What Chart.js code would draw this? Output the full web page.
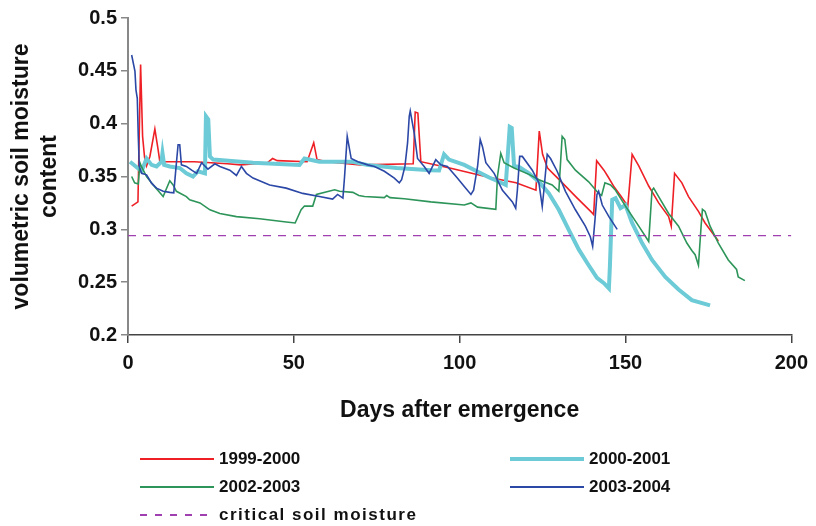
<!DOCTYPE html>
<html>
<head>
<meta charset="utf-8">
<script src="https://cdn.jsdelivr.net/npm/chart.js@4.4.1/dist/chart.umd.min.js"></script>
<style>
  html, body { margin: 0; padding: 0; background: #fff; }
  #wrap { position: relative; width: 816px; height: 526px; }
  #legend { position: absolute; left: 0; top: 0; width: 816px; height: 526px; pointer-events: none;
            font: bold 17px "Liberation Sans", Arial, sans-serif; color: #111; }
  .item { position: absolute; height: 22px; display: flex; align-items: center; white-space: nowrap; }
  .swatch { width: 74px; margin-right: 5px; }
</style>
</head>
<body>
<div id="wrap">
  <canvas id="chart" width="816" height="526"></canvas>
  <div id="legend"></div>
</div>
<script>
// tick labels
const xTicks = [0, 50, 100, 150, 200];
const yTicks = [0.2, 0.25, 0.3, 0.35, 0.4, 0.45, 0.5];

// 1999-2000
const days9900 = [1.1, 3.0, 3.8, 4.4, 5.0, 5.6, 6.6, 8.1, 9.1, 9.6, 20, 30, 34, 42, 43.6, 45, 54, 56, 57, 60, 70,
  86, 86.6, 87.4, 88.3, 97, 109, 117, 123, 124, 125, 126.5, 130, 135, 139.8, 140.4, 141.3, 143.5, 144.7, 146.6,
  148.7, 150.7, 152, 154, 157, 160, 163, 163.8, 164.8, 167, 169, 172, 174, 178];
const vals9900 = [0.322, 0.326, 0.456, 0.388, 0.368, 0.360, 0.369, 0.395, 0.375, 0.364, 0.364, 0.362, 0.361, 0.363,
  0.367, 0.365, 0.364, 0.382, 0.366, 0.364, 0.361, 0.362, 0.411, 0.410, 0.364, 0.358, 0.349, 0.344, 0.337, 0.393,
  0.371, 0.358, 0.347, 0.331, 0.316, 0.314, 0.365, 0.356, 0.350, 0.340, 0.331, 0.322, 0.371, 0.360, 0.341, 0.325,
  0.312, 0.303, 0.353, 0.344, 0.331, 0.317, 0.306, 0.289];

// 2000-2001
const days0001 = [0.6, 4.1, 5.6, 7.1, 8.6, 10.1, 10.4, 10.9, 12.6, 15.6, 17.6, 19.6, 21.1, 23.2, 23.5, 24.2, 24.7,
  25.7, 37.7, 51.7, 53.2, 57.7, 67.7, 72, 81, 91.3, 93.8, 95.3, 96.8, 101.4, 108.9, 111.9, 113.9, 115.1, 115.7,
  116.4, 117.9, 120.9, 123.9, 126.9, 129.9, 132.9, 135.9, 138.9, 141.4, 143.5, 145, 145.3, 146, 147, 148.5, 150,
  152, 155, 158, 162, 166, 170, 175.5];
const vals0001 = [0.364, 0.355, 0.367, 0.361, 0.3595, 0.364, 0.372, 0.361, 0.3595, 0.358, 0.353, 0.350, 0.355,
  0.353, 0.407, 0.404, 0.369, 0.366, 0.363, 0.361, 0.367, 0.364, 0.364, 0.361, 0.358, 0.356, 0.3557, 0.371, 0.366,
  0.361, 0.349, 0.345, 0.342, 0.397, 0.396, 0.360, 0.359, 0.353, 0.345, 0.334, 0.3185, 0.2995, 0.281, 0.266,
  0.254, 0.249, 0.244, 0.265, 0.328, 0.3295, 0.320, 0.323, 0.306, 0.287, 0.271, 0.255, 0.243, 0.233, 0.228];

// 2002-2003
const days0203 = [1.1, 2.0, 3.1, 3.6, 4.1, 5.6, 7.6, 10.6, 12.6, 13.6, 14.6, 17.6, 18.6, 21.7, 24.7, 27.7, 32.7,
  39.7, 47.7, 50.4, 52.2, 53.2, 55.7, 56.8, 62.3, 63.8, 67.8, 69.6, 71.3, 77.3, 78, 79, 83.3, 91.3, 101.4, 103.4,
  105.4, 110.9, 111.4, 112.4, 113.4, 116.4, 120.9, 123.9, 127.9, 129.9, 130.9, 131.7, 132.4, 134.9, 138.9, 141.9,
  142.8, 143.8, 145.5, 147, 150, 154, 157, 158, 158.5, 160, 163, 166, 168.5, 170, 171, 172, 172.8, 173.2, 174,
  175.5, 178, 181, 183.5, 184, 186];
const vals0203 = [0.350, 0.344, 0.343, 0.363, 0.359, 0.350, 0.342, 0.331, 0.346, 0.342, 0.336, 0.331, 0.328,
  0.325, 0.3185, 0.315, 0.312, 0.310, 0.307, 0.306, 0.3185, 0.322, 0.322, 0.333, 0.3375, 0.336, 0.335, 0.332,
  0.331, 0.330, 0.332, 0.330, 0.329, 0.326, 0.323, 0.325, 0.321, 0.319, 0.350, 0.372, 0.363, 0.358, 0.352, 0.347,
  0.342, 0.336, 0.388, 0.385, 0.366, 0.356, 0.345, 0.334, 0.332, 0.344, 0.342, 0.337, 0.322, 0.303, 0.2885,
  0.337, 0.339, 0.331, 0.315, 0.303, 0.287, 0.280, 0.276, 0.266, 0.303, 0.319, 0.317, 0.303, 0.287, 0.271, 0.262,
  0.255, 0.2515];

// 2003-2004
const days0304 = [1.1, 2.1, 2.4, 2.8, 3.1, 3.4, 4.1, 5.6, 7.1, 8.6, 10.6, 12.6, 13.8, 14.4, 15.1, 15.6, 16.1, 17.6,
  19.2, 20.7, 22.2, 24.1, 26.2, 27.7, 30.7, 32.7, 34.2, 35.7, 37.7, 42.7, 47.7, 52.7, 57.7, 61.7, 63.2, 64.8, 65.3,
  66.1, 67.3, 69.3, 72.3, 74.3, 77.3, 80.3, 81.8, 82.5, 83.5, 84.3, 84.8, 85.1, 86.3, 87.3, 89.3, 90.8, 92.8, 94.3,
  96.3, 99.3, 101.4, 103.4, 104.2, 105.4, 106.2, 106.9, 107.9, 110.4, 112.9, 115.9, 116.9, 117.4, 118.1, 118.9,
  121.9, 123.9, 124.9, 125.4, 126.4, 127.4, 129.4, 131.9, 134.9, 137.9, 139.4, 140.1, 140.8, 141.4, 141.9, 143,
  145, 147.5];
const vals0304 = [0.465, 0.4495, 0.432, 0.424, 0.388, 0.3595, 0.353, 0.3516, 0.3437, 0.339, 0.336, 0.335, 0.3345,
  0.356, 0.380, 0.380, 0.361, 0.3595, 0.356, 0.353, 0.363, 0.357, 0.362, 0.3595, 0.356, 0.351, 0.3595, 0.353,
  0.3485, 0.342, 0.339, 0.334, 0.331, 0.3286, 0.333, 0.3295, 0.350, 0.388, 0.367, 0.364, 0.361, 0.3595, 0.355,
  0.3485, 0.344, 0.347, 0.3595, 0.382, 0.407, 0.412, 0.391, 0.367, 0.3595, 0.353, 0.366, 0.361, 0.3595, 0.3485,
  0.3405, 0.333, 0.337, 0.3595, 0.385, 0.378, 0.363, 0.353, 0.337, 0.326, 0.320, 0.337, 0.369, 0.369, 0.356,
  0.344, 0.3216, 0.337, 0.371, 0.367, 0.355, 0.336, 0.3185, 0.303, 0.293, 0.284, 0.309, 0.333, 0.336, 0.323,
  0.312, 0.300];

// critical soil moisture
const critDays = [0, 200];
const critVals = [0.294, 0.294];

const FONT = '"Liberation Sans", Arial, sans-serif';

function toPoints(days, vals) {
  return days.map((d, i) => ({ x: d, y: vals[i] }));
}

const series = [
  { label: '1999-2000', days: days9900, vals: vals9900, color: '#ee2026', width: 1.6, order: 4, col: 0, row: 0 },
  { label: '2000-2001', days: days0001, vals: vals0001, color: '#6ccbd6', width: 4, order: 3, col: 1, row: 0 },
  { label: '2002-2003', days: days0203, vals: vals0203, color: '#2e955a', width: 1.6, order: 2, col: 0, row: 1 },
  { label: '2003-2004', days: days0304, vals: vals0304, color: '#2c48a6', width: 1.6, order: 1, col: 1, row: 1 },
  { label: 'critical soil moisture', days: critDays, vals: critVals, color: '#a040b0', width: 1.2, dash: [8, 7], order: 0, col: 0, row: 2 }
];

const datasets = series.map(s => ({
  label: s.label,
  data: toPoints(s.days, s.vals),
  borderColor: s.color,
  backgroundColor: s.color,
  borderWidth: s.width,
  borderDash: s.dash || [],
  pointRadius: 0,
  tension: 0,
  fill: false,
  order: s.order
}));

const tickFont = { family: FONT, size: 20, weight: 'bold' };
const titleFont = { family: FONT, size: 23, weight: 'bold' };

new Chart(document.getElementById('chart').getContext('2d'), {
  type: 'line',
  data: { datasets },
  options: {
    responsive: false,
    animation: false,
    layout: { padding: { top: 18, right: 21, left: 0, bottom: 0 } },
    plugins: { legend: { display: false }, tooltip: { enabled: false } },
    scales: {
      x: {
        type: 'linear', min: 0, max: 200,
        afterBuildTicks: s => { s.ticks = xTicks.map(v => ({ value: v })); },
        ticks: { font: tickFont, color: '#111', padding: 8, maxRotation: 0 },
        grid: { drawOnChartArea: false, drawTicks: true, tickLength: 8, color: '#444', lineWidth: 1.5 },
        border: { display: true, color: '#444', width: 1.5 },
        title: { display: true, text: 'Days after emergence', font: titleFont, color: '#111', padding: { top: 0, bottom: 102 } },
        afterFit: s => { s.height = 191; }
      },
      y: {
        type: 'linear', min: 0.2, max: 0.5,
        afterBuildTicks: s => { s.ticks = yTicks.map(v => ({ value: v })); },
        ticks: { font: tickFont, color: '#111', padding: 4, callback: v => String(+v.toFixed(2)) },
        grid: { drawOnChartArea: false, drawTicks: true, tickLength: 7, color: '#888', lineWidth: 1.5 },
        border: { display: true, color: '#888', width: 2 },
        title: { display: true, text: ['volumetric soil moisture', 'content'], font: titleFont, color: '#111', padding: { top: 8, bottom: 0 } },
        afterFit: s => { s.width = 128; }
      }
    }
  }
});

// legend under the plot
const legend = document.getElementById('legend');
const colX = [140, 510];
const rowY = [448, 476, 504];
series.forEach(s => {
  const item = document.createElement('div');
  item.className = 'item';
  item.style.left = colX[s.col] + 'px';
  item.style.top = rowY[s.row] + 'px';
  const sw = document.createElement('span');
  sw.className = 'swatch';
  const h = Math.max(2, Math.round(s.width));
  sw.style.height = h + 'px';
  sw.style.background = s.dash
    ? 'repeating-linear-gradient(to right, ' + s.color + ' 0 7px, transparent 7px 15px)'
    : s.color;
  const txt = document.createElement('span');
  txt.textContent = s.label;
  if (s.dash) txt.style.letterSpacing = '1.5px';
  item.appendChild(sw);
  item.appendChild(txt);
  legend.appendChild(item);
});
</script>
</body>
</html>
